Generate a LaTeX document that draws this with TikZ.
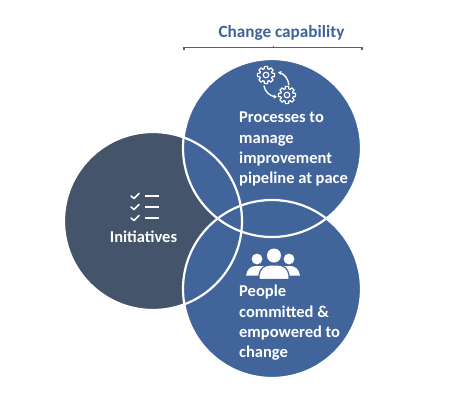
\documentclass[tikz,border=0pt]{standalone}
\usepackage{fontspec}
\setmainfont{Carlito}
\usetikzlibrary{arrows.meta,calc}
\definecolor{bluec}{HTML}{41659B}
\definecolor{darkc}{HTML}{44546A}
\definecolor{headc}{HTML}{3F6299}
\definecolor{shadec}{HTML}{D9D9D9}
\tikzset{
  disc/.style={circle,minimum size=178pt,inner sep=0pt,outer sep=0pt},
  ring/.style={circle,minimum size=178pt,inner sep=0pt,draw=white,line width=2.2pt},
  label/.style={text=white,font=\bfseries\fontsize{16.5}{20.3}\selectfont,align=left,inner sep=0pt},
  icon/.style={draw=white,line width=1.3pt,line cap=round,line join=round},
  flow/.style={icon,-{Stealth[length=3.5pt,width=4pt]}}
}
\newcommand{\gearicon}[3]{%
  \begin{scope}[shift={(#1,#2)}]
  \draw[icon,line width=1.2pt] (-11:8.6)
    \foreach \a in {0,45,...,315} {
      -- (\a-11:8.6) -- (\a+11:8.6) -- (\a+16:6.4) -- (\a+29:6.4)
    } -- cycle;
  \draw[icon,line width=1.2pt] (0,0) circle (#3);
  \end{scope}
}
\begin{document}
\begin{tikzpicture}[x=1pt,y=-1pt]
\useasboundingbox (0,0) rectangle (459,400);
\fill[white] (0,0) rectangle (459,400);
% faint shadows
\fill[shadec!60] (272.5,149) circle (88.6pt);
\fill[shadec!60] (272.5,290) circle (88.6pt);
\fill[shadec!60] (152.5,222) circle (88.6pt);
% filled discs
\node[disc,fill=darkc] (init) at (153,221) {};
\node[disc,fill=bluec] (proc) at (272,148) {};
\node[disc,fill=bluec] (peop) at (272,289) {};
% white outlines
\node[ring] at (153,221) {};
\node[ring] at (272,148) {};
\node[ring] at (272,289) {};
% heading and bracket
\node[text=headc,font=\bfseries\fontsize{17.2}{20}\selectfont,inner sep=0pt] (head) at (281.5,32.5) {Change capability};
\coordinate (bl) at (184,47.5);
\coordinate (br) at (362,47.5);
\coordinate (bm) at (273,47.5);
\draw[headc,line width=1.3pt] ($(bl)+(0,2)$) -- (bl) -- (br) -- ($(br)+(0,2)$);
\draw[headc,line width=1pt] (bm) -- ($(bm)+(0,-1.5)$);
% labels
\node[label,anchor=north west] (ptxt) at (239,112) {Processes to\\manage\\improvement\\pipeline at pace};
\node[label] (itxt) at (143.5,237) {Initiatives};
\node[label,anchor=north west] (ctxt) at (239,285) {People\\committed \&\\empowered to\\change};
% gears icon
\gearicon{266}{75}{2.8}
\gearicon{287}{95}{2.8}
\draw[flow] (289,85) .. controls (288,78) and (284,74) .. (278,72);
\draw[flow] (264,86) .. controls (265,92) and (270,96) .. (277,97);
% checklist icon
\foreach \yy in {196,207,218}{
  \draw[icon,line width=1.5pt] (131,\yy) -- (134,{\yy+2.5}) -- (139,{\yy-2.5});
  \draw[icon,line width=1.9pt,line cap=butt] (145,\yy) -- (159,\yy);
}
% people icon
\fill[white] (257,259) circle (5.4pt);
\fill[white] (289,259) circle (5.4pt);
\fill[white] (274,255.5) circle (7pt);
\fill[white] (246,275.5) .. controls (247,269) and (251,266) .. (256,266) -- (290,266) .. controls (295,266) and (299,269) .. (300,275.5) -- cycle;
\filldraw[fill=white,draw=bluec,line width=1.2pt] (259,279.5) -- (259,275) .. controls (260,268) and (265,265) .. (270,265) -- (278,265) .. controls (283,265) and (288,268) .. (289,275) -- (289,279.5) -- cycle;
\end{tikzpicture}
\end{document}
